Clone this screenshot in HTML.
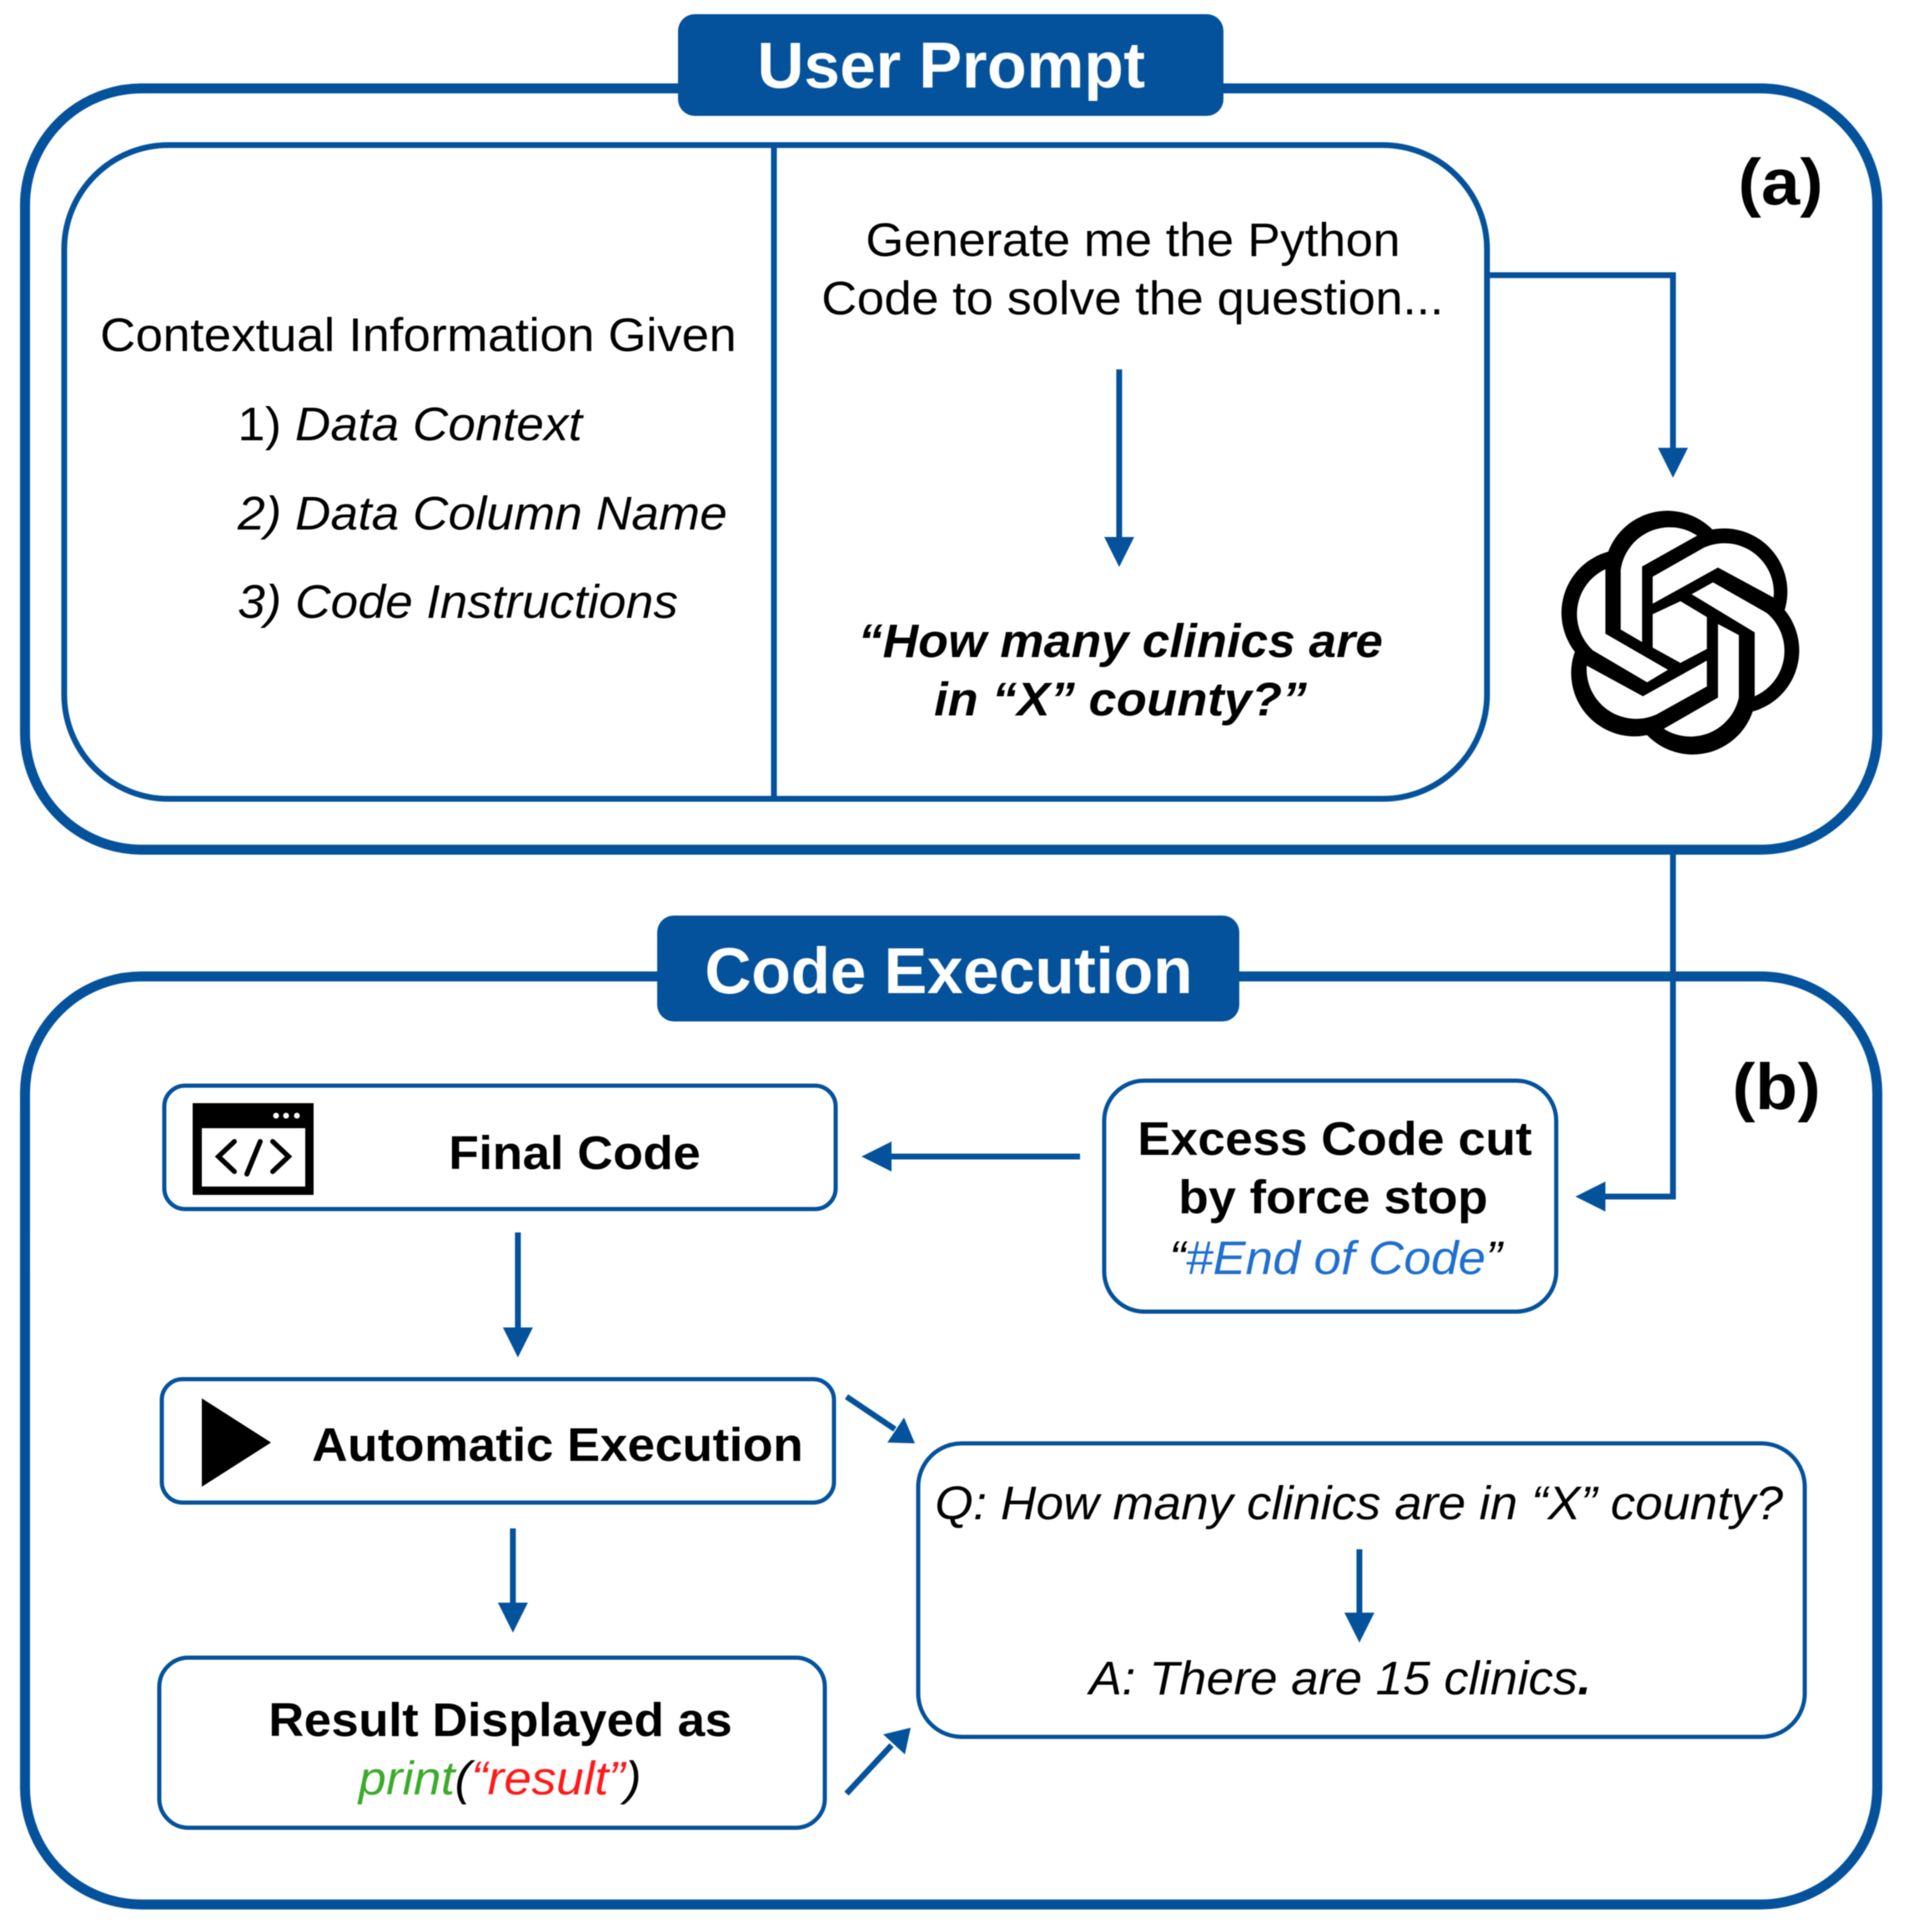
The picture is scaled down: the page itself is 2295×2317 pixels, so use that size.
<!DOCTYPE html>
<html><head><meta charset="utf-8"><style>
html,body{margin:0;padding:0;background:#fff;width:2295px;height:2317px;overflow:hidden}
svg{display:block;filter:blur(.6px)}
text{font-family:"Liberation Sans",sans-serif;fill:#000}
.b{font-weight:700}.i{font-style:italic}
.h{font-weight:700;fill:#fff;font-size:78px}
</style></head><body>
<svg width="2295" height="2317" viewBox="0 0 2295 2317" xmlns="http://www.w3.org/2000/svg">
<rect width="2295" height="2317" fill="#fff"/>
<g fill="none" stroke="#05529c">
<rect x="30" y="106" width="2221" height="913" rx="140" stroke-width="12"/>
<rect x="30" y="1171" width="2221" height="1113" rx="140" stroke-width="12"/>
<rect x="77" y="174" width="1706" height="784" rx="125" stroke-width="7"/>
<path d="M928 174V958" stroke-width="7"/>
<rect x="197" y="1302" width="805" height="148" rx="25" stroke-width="5"/>
<rect x="194" y="1654" width="806" height="148" rx="25" stroke-width="5"/>
<rect x="191" y="1988" width="798" height="204" rx="35" stroke-width="5"/>
<rect x="1324" y="1296" width="542" height="277" rx="48" stroke-width="5"/>
<rect x="1101" y="1731" width="1063" height="352" rx="52" stroke-width="5"/>
<path d="M1783 330H2006V550" stroke-width="7"/>
<path d="M2006 1019V1435H1915" stroke-width="7"/>
<path d="M1342 443V650" stroke-width="7"/>
<path d="M1295 1387H1060" stroke-width="7"/>
<path d="M621 1478V1595" stroke-width="7"/>
<path d="M615 1833V1925" stroke-width="7"/>
<path d="M1630 1858V1940" stroke-width="7"/>
<path d="M1015 1675L1073 1714" stroke-width="7"/>
<path d="M1015 2151L1069 2093" stroke-width="7"/>
</g>
<g fill="#05529c">
<rect x="813" y="17" width="654" height="122" rx="20"/>
<rect x="788" y="1098" width="698" height="127" rx="20"/>
<path d="M1988 537H2024L2006 573Z"/>
<path d="M1324 644H1360L1342 680Z"/>
<path d="M1925 1417V1453L1889 1435Z"/>
<path d="M1069 1369V1405L1033 1387Z"/>
<path d="M603 1592H639L621 1628Z"/>
<path d="M597 1922H633L615 1958Z"/>
<path d="M1612 1934H1648L1630 1970Z"/>
<path d="M1084 1700L1064 1730L1097 1731Z"/>
<path d="M1059 2080L1085 2104L1092 2072Z"/>
</g>
<text class="h" x="908" y="105" textLength="465" lengthAdjust="spacingAndGlyphs">User Prompt</text>
<text class="h" x="845" y="1191" textLength="585" lengthAdjust="spacingAndGlyphs">Code Execution</text>
<text class="b" x="2084" y="245" font-size="78" textLength="102" lengthAdjust="spacingAndGlyphs">(a)</text>
<text class="b" x="2077" y="1330" font-size="78" textLength="106" lengthAdjust="spacingAndGlyphs">(b)</text>
<g font-size="57">
<text x="120" y="421" textLength="763" lengthAdjust="spacingAndGlyphs">Contextual Information Given</text>
<text x="285" y="528" textLength="413" lengthAdjust="spacingAndGlyphs">1) <tspan class="i">Data Context</tspan></text>
<text class="i" x="285" y="635" textLength="587" lengthAdjust="spacingAndGlyphs">2) Data Column Name</text>
<text class="i" x="285" y="741" textLength="528" lengthAdjust="spacingAndGlyphs">3) Code Instructions</text>
<text x="1038" y="307" textLength="641" lengthAdjust="spacingAndGlyphs">Generate me the Python</text>
<text x="985" y="377" textLength="746" lengthAdjust="spacingAndGlyphs">Code to solve the question...</text>
<text class="b i" x="1029" y="788" textLength="629" lengthAdjust="spacingAndGlyphs">“How many clinics are</text>
<text class="b i" x="1120" y="858" textLength="447" lengthAdjust="spacingAndGlyphs">in “X” county?”</text>
<text class="b" x="538" y="1402" textLength="302" lengthAdjust="spacingAndGlyphs">Final Code</text>
<text class="b" x="374" y="1752" textLength="589" lengthAdjust="spacingAndGlyphs">Automatic Execution</text>
<text class="b" x="322" y="2082" textLength="556" lengthAdjust="spacingAndGlyphs">Result Displayed as</text>
<text class="i" x="430" y="2152" textLength="339" lengthAdjust="spacingAndGlyphs"><tspan fill="#3bab2c">print</tspan>(<tspan fill="#ff1a1a">“result”</tspan>)</text>
<text class="b" x="1364" y="1385" textLength="473" lengthAdjust="spacingAndGlyphs">Excess Code cut</text>
<text class="b" x="1413" y="1455" textLength="371" lengthAdjust="spacingAndGlyphs">by force stop</text>
<text class="i" x="1402" y="1528" textLength="399" lengthAdjust="spacingAndGlyphs">“<tspan fill="#1f6fd0">#End of Code</tspan>”</text>
<text class="i" x="1121" y="1822" textLength="1017" lengthAdjust="spacingAndGlyphs">Q: How many clinics are in “X” county?</text>
<text class="i" x="1306" y="2032" textLength="602" lengthAdjust="spacingAndGlyphs">A: There are 15 clinics<tspan class="b">.</tspan></text>
</g>
<!-- code icon -->
<path fill="#000" fill-rule="evenodd" d="M231 1323H376V1433H231ZM242 1353V1423H366V1353Z"/>
<g fill="#fff"><circle cx="331" cy="1338" r="3.5"/><circle cx="343" cy="1338" r="3.5"/><circle cx="356" cy="1338" r="3.5"/></g>
<g fill="none" stroke="#000" stroke-width="6" stroke-linecap="round" stroke-linejoin="miter">
<path d="M281 1369L262 1387L281 1405"/><path d="M312 1369L296 1408"/><path d="M327 1369L346 1387L327 1405"/>
</g>
<!-- play icon -->
<path d="M242 1677L325 1730L242 1783Z" fill="#000"/>
<!-- logo -->
<g transform="translate(1750,560) scale(.3333)">
<path fill="#000" d="M535 305A228 228 0 0 1 910 225A228 228 0 0 1 1170 515A228 228 0 0 1 1055 880A228 228 0 0 1 675 965A228 228 0 0 1 415 665A228 228 0 0 1 535 305Z"/>
<g fill="#fff">
<path d="M855 247A178 178 0 0 0 580 370V585L657 630V358Z"/>
<path d="M695 395L880 290A178 178 0 0 1 1130 470L930 362L695 492Z"/>
<path d="M835 458L912 415L1105 525A178 178 0 0 1 1062 825V595Z"/>
<path d="M1005 605L930 565V830L735 942A178 178 0 0 0 1005 830Z"/>
<path d="M890 697V790L710 890A178 178 0 0 1 458 715L660 825Z"/>
<path d="M750 730L675 775L480 660A178 178 0 0 1 525 368V600Z"/>
<path d="M795 483L890 540V655L795 705L695 650V530Z"/>
</g>
</g>
</svg>
</body></html>
